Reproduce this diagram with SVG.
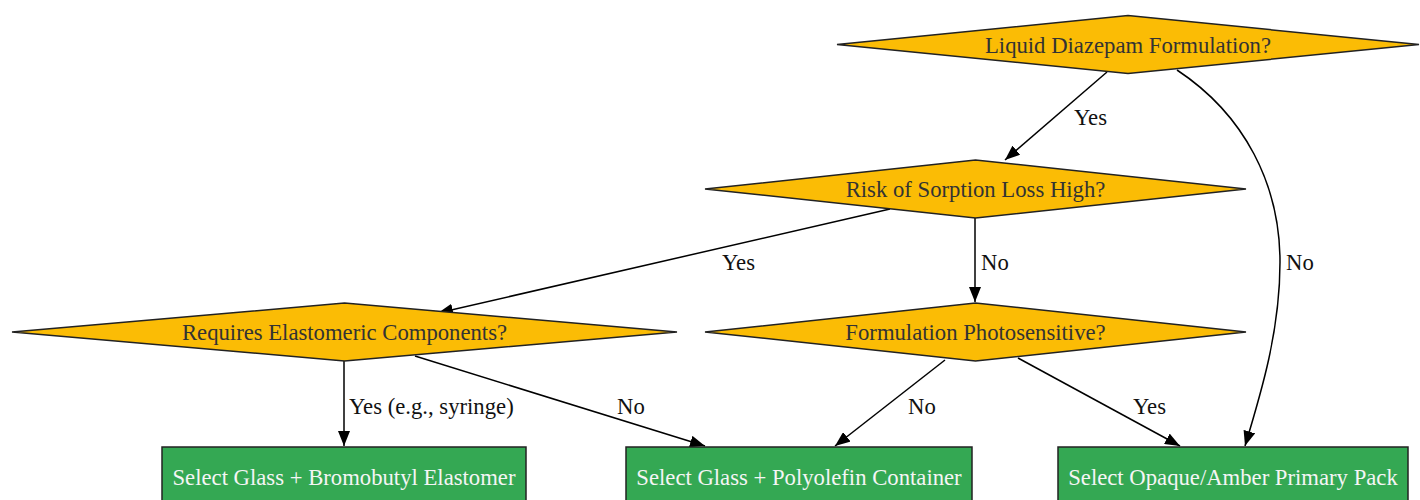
<svg xmlns="http://www.w3.org/2000/svg" width="1420" height="500" viewBox="0 0 1420 500">
<style>
.d{fill:#FBBC05;stroke:#222;stroke-width:1.5}
.b{fill:#34A853;stroke:#222;stroke-width:1.5}
.dt{font-family:"Liberation Serif",serif;font-size:22.7px;fill:#333;text-anchor:middle}
.bt{font-family:"Liberation Serif",serif;font-size:22.7px;fill:#f5f5f5;text-anchor:middle}
.el{font-family:"Liberation Serif",serif;font-size:22.7px;fill:#111}
.e{fill:none;stroke:#000;stroke-width:1.5;marker-end:url(#ah)}
</style>
<defs>
<marker id="ah" markerUnits="userSpaceOnUse" markerWidth="16" markerHeight="12" refX="15" refY="6" orient="auto">
<path d="M0,0 L15,6 L0,12 Z" fill="#000"/>
</marker>
</defs>
<g id="connectors">
<path class="e" d="M1107,72 L1005,160"/>
<path class="e" d="M1177,70 C1245,115 1280,185 1280,262 C1280,330 1262,390 1245,446"/>
<path class="e" d="M890,209 L438,313"/>
<path class="e" d="M975,218 L975,302"/>
<path class="e" d="M344,361 L344,446"/>
<path class="e" d="M415,356 L705,446"/>
<path class="e" d="M945,360 L835,446"/>
<path class="e" d="M1018,358 L1180,446"/>
<text class="el" x="1074" y="125">Yes</text>
<text class="el" x="1286" y="270">No</text>
<text class="el" x="722" y="270">Yes</text>
<text class="el" x="981" y="270">No</text>
<text class="el" x="349" y="414">Yes (e.g., syringe)</text>
<text class="el" x="617" y="414">No</text>
<text class="el" x="908" y="414">No</text>
<text class="el" x="1133" y="414">Yes</text>
</g>
<g id="n1"><polygon class="d" points="1128,15.5 1419,44.5 1128,73.5 837,44.5"/><text class="dt" x="1128" y="52.5">Liquid Diazepam Formulation?</text></g>
<g id="n2"><polygon class="d" points="975.5,160 1246,189 975.5,218 705,189"/><text class="dt" x="975.5" y="197">Risk of Sorption Loss High?</text></g>
<g id="n3"><polygon class="d" points="344.5,303 677,332 344.5,361 12,332"/><text class="dt" x="344.5" y="340">Requires Elastomeric Components?</text></g>
<g id="n4"><polygon class="d" points="975.5,303 1246,332 975.5,361 705,332"/><text class="dt" x="975.5" y="340">Formulation Photosensitive?</text></g>
<g id="n5"><rect class="b" x="162" y="447" width="364" height="60"/><text class="bt" x="344" y="485">Select Glass + Bromobutyl Elastomer</text></g>
<g id="n6"><rect class="b" x="626" y="447" width="346" height="60"/><text class="bt" x="799" y="485">Select Glass + Polyolefin Container</text></g>
<g id="n7"><rect class="b" x="1058" y="447" width="350" height="60"/><text class="bt" x="1233" y="485">Select Opaque/Amber Primary Pack</text></g>
</svg>
